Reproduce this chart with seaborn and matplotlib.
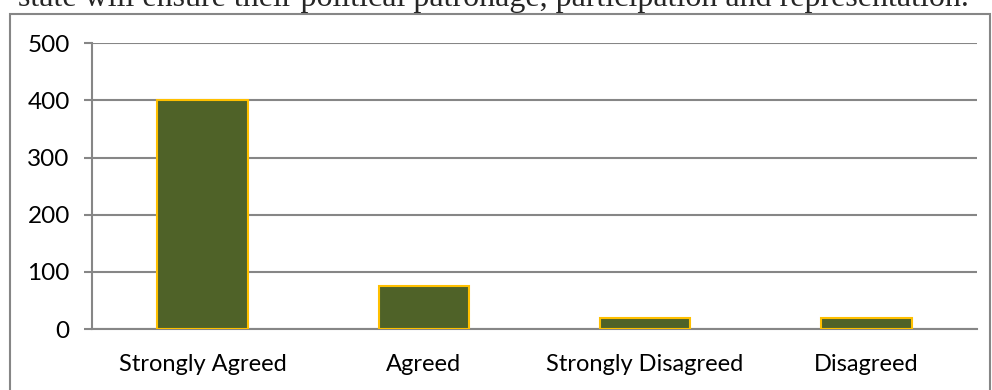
import seaborn as sns
import pandas as pd
import matplotlib.pyplot as plt
from matplotlib.patches import Rectangle

responses = ['Strongly Agreed', 'Agreed', 'Strongly Disagreed', 'Disagreed']
counts = [400, 75, 20, 20]
yticks = [0, 100, 200, 300, 400, 500]
caption = 'state will ensure their political patronage, participation and representation.'

df = pd.DataFrame({'response': responses, 'count': counts})

sns.set_style('white')
plt.rcParams['font.family'] = ['Lato', 'DejaVu Sans']

fig = plt.figure(figsize=(9.92, 3.9), dpi=100)
W, H = 992, 390
ax = fig.add_axes([92 / W, 61 / H, (977 - 92) / W, (329 - 43.3) / H])

sns.barplot(data=df, x='response', y='count', ax=ax, color='#4F6228',
            saturation=1, width=0.41, edgecolor='#FFC000', linewidth=1.5, zorder=3)

grid_c = '#868686'
ax.set_ylim(0, 500)
ax.set_yticks(yticks)
ax.set_xlim(-0.5, len(responses) - 0.5)
ax.yaxis.grid(True, color=grid_c, linewidth=1.5, zorder=0)
ax.set_axisbelow(True)
ax.set_xlabel('')
ax.set_ylabel('')

for side in ['top', 'right']:
    ax.spines[side].set_visible(False)
for side in ['left', 'bottom']:
    ax.spines[side].set_color(grid_c)
    ax.spines[side].set_linewidth(1.5)

# ticks sit on the category boundaries, labels at the centres
ax.set_xticks([i - 0.5 for i in range(len(responses) + 1)], minor=True)
ax.tick_params(axis='x', which='major', length=0, pad=18, labelsize=17, colors='black')
ax.tick_params(axis='x', which='minor', length=5, width=1.5, color=grid_c, direction='out')
ax.tick_params(axis='y', length=6, width=1.5, color=grid_c, pad=10, labelsize=17.5,
               labelcolor='black', left=True)

# outer chart border
fig.patches.append(Rectangle((10 / W, -0.05), (990 - 10) / W, (H - 14) / H + 0.05,
                             transform=fig.transFigure, fill=False,
                             edgecolor=grid_c, linewidth=1.5))

fig.text(18 / W, 1 - 6 / H, caption, family='Liberation Serif', fontsize=23,
         ha='left', va='baseline')

fig.savefig('out.png', dpi=100)
